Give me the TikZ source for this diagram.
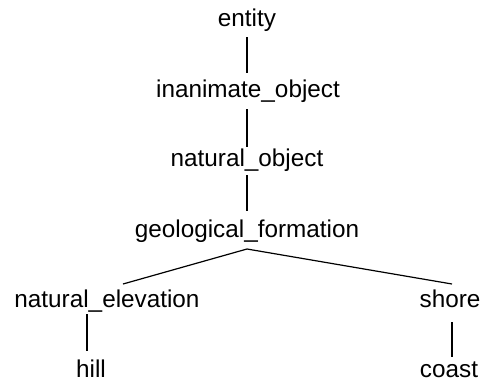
\documentclass[tikz,border=0pt]{standalone}
\usepackage{fontspec}
\setmainfont{Liberation Sans}
\usetikzlibrary{calc}
\begin{document}
\begin{tikzpicture}[x=1pt,y=1pt,
  lbl/.style={anchor=base,inner sep=0pt,font=\fontsize{24.3}{28}\selectfont},
  conn/.style={draw=black,line width=1.2pt}]
\useasboundingbox (0,0) rectangle (484,-381);
\node[lbl] (entity) at (247,-26) {entity};
\node[lbl] (inan) at (248,-97) {inanimate\_object};
\node[lbl] (natobj) at (247,-166) {natural\_object};
\node[lbl] (geo) at (247,-237) {geological\_formation};
\node[lbl] (natel) at (107,-307) {natural\_elevation};
\node[lbl] (shore) at (450,-307) {shore};
\node[lbl] (hill) at (91,-377) {hill};
\node[lbl] (coast) at (449,-377) {coast};
\draw[conn] ($(entity.base)+(0,-11)$) -- ($(inan.base)+(-1,24)$);
\draw[conn] ($(inan.base)+(-1,-12)$) -- ($(natobj.base)+(0,19)$);
\draw[conn] ($(natobj.base)+(0,-9)$) -- ($(geo.base)+(0,26)$);
\draw[conn] ($(geo.base)+(0,-12)$) -- ($(natel.base)+(16,23)$);
\draw[conn] ($(geo.base)+(0,-12)$) -- ($(shore.base)+(2,23)$);
\draw[conn] ($(natel.base)+(-20,-7)$) -- ($(hill.base)+(-4,26)$);
\draw[conn] ($(shore.base)+(2,-15)$) -- ($(coast.base)+(3,20)$);
\end{tikzpicture}
\end{document}
